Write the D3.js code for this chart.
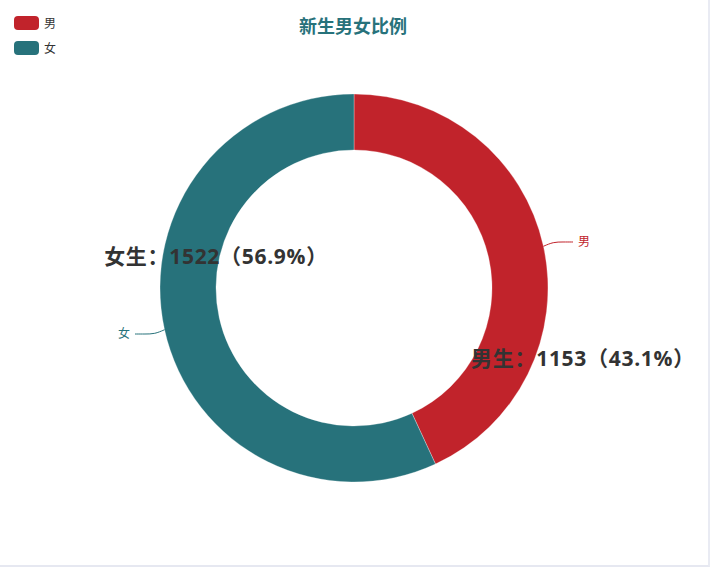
<!DOCTYPE html>
<html>
<head>
<meta charset="utf-8">
<script src="https://cdn.jsdelivr.net/npm/d3@7"></script>
<style>
  html, body { margin: 0; padding: 0; background: #fff; }
  #chart {
    width: 708px; height: 565px;
    border-right: 2px solid #e9ebf3;
    border-bottom: 2px solid #e6e8f1;
    box-sizing: content-box;
  }
  text { font-family: "Noto Sans CJK SC", "Noto Sans", sans-serif; }
  .big { font-family: "Open Sans", "Noto Sans CJK SC", sans-serif; letter-spacing: 0.7px; }
</style>
</head>
<body>
<div id="chart"></div>
<script>
// data
const categories = ["男", "女"];
const fullNames = ["男生", "女生"];
const counts = [1153, 1522];
const colors = ["#c1232b", "#27727b"];
const titleText = "新生男女比例";

const w = 708, h = 565;
const cx = 354, cy = 288;
const outerR = 194, innerR = 138;

const svg = d3.select("#chart").append("svg")
    .attr("width", w)
    .attr("height", h);

// title
svg.append("text")
    .text(titleText)
    .attr("x", 353)
    .attr("y", 33)
    .attr("text-anchor", "middle")
    .attr("fill", "#27727b")
    .style("font-size", "18px")
    .style("font-weight", "bold");

// legend
const legend = svg.append("g").attr("transform", "translate(14,16)");
const legendItem = legend.selectAll("g")
    .data(categories)
    .enter()
    .append("g")
    .attr("transform", (d, i) => `translate(0,${i * 25})`);
legendItem.append("rect")
    .attr("width", 25)
    .attr("height", 14)
    .attr("rx", 4)
    .attr("fill", (d, i) => colors[i]);
legendItem.append("text")
    .text(d => d)
    .attr("x", 30)
    .attr("y", 11.5)
    .attr("fill", "#333")
    .style("font-size", "12px");

const total = d3.sum(counts);
const pieData = d3.pie().sort(null)(counts);
const arc = d3.arc().innerRadius(innerR).outerRadius(outerR);

const g = svg.append("g").attr("transform", `translate(${cx},${cy})`);

g.selectAll("path")
    .data(pieData)
    .enter()
    .append("path")
    .attr("d", arc)
    .attr("fill", (d, i) => colors[i])
    .attr("stroke", "#fff")
    .attr("stroke-width", 0.3);

// outer labels with leader lines
pieData.forEach((d, i) => {
    const mid = (d.startAngle + d.endAngle) / 2;
    const sx = Math.sin(mid), sy = -Math.cos(mid);
    const p0 = [sx * outerR, sy * outerR];
    const p1 = [sx * (outerR + 20), sy * (outerR + 20)];
    const dir = sx > 0 ? 1 : -1;
    const p2 = [p1[0] + dir * 10, p1[1]];
    g.append("path")
        .attr("d", d3.line().curve(d3.curveBasis)([p0, [p0[0] + (p1[0] - p0[0]) * 0.5, p1[1]], p1, p2]))
        .attr("fill", "none")
        .attr("stroke", colors[i])
        .attr("stroke-width", 1);
    g.append("text")
        .text(categories[i])
        .attr("x", p2[0] + dir * 5)
        .attr("y", p2[1] + 4)
        .attr("text-anchor", dir > 0 ? "start" : "end")
        .attr("fill", colors[i])
        .style("font-size", "12px");
});

// big value labels
const bigOffsets = [[229, 71], [-138, -31]];
pieData.forEach((d, i) => {
    const pct = (counts[i] / total * 100).toFixed(1);
    g.append("text")
        .attr("class", "big")
        .text(`${fullNames[i]}：${counts[i]}（${pct}%）`)
        .attr("x", bigOffsets[i][0])
        .attr("y", bigOffsets[i][1] + 7)
        .attr("text-anchor", "middle")
        .attr("fill", "#333")
        .style("font-size", "21px")
        .style("font-weight", "bold");
});
</script>
</body>
</html>
